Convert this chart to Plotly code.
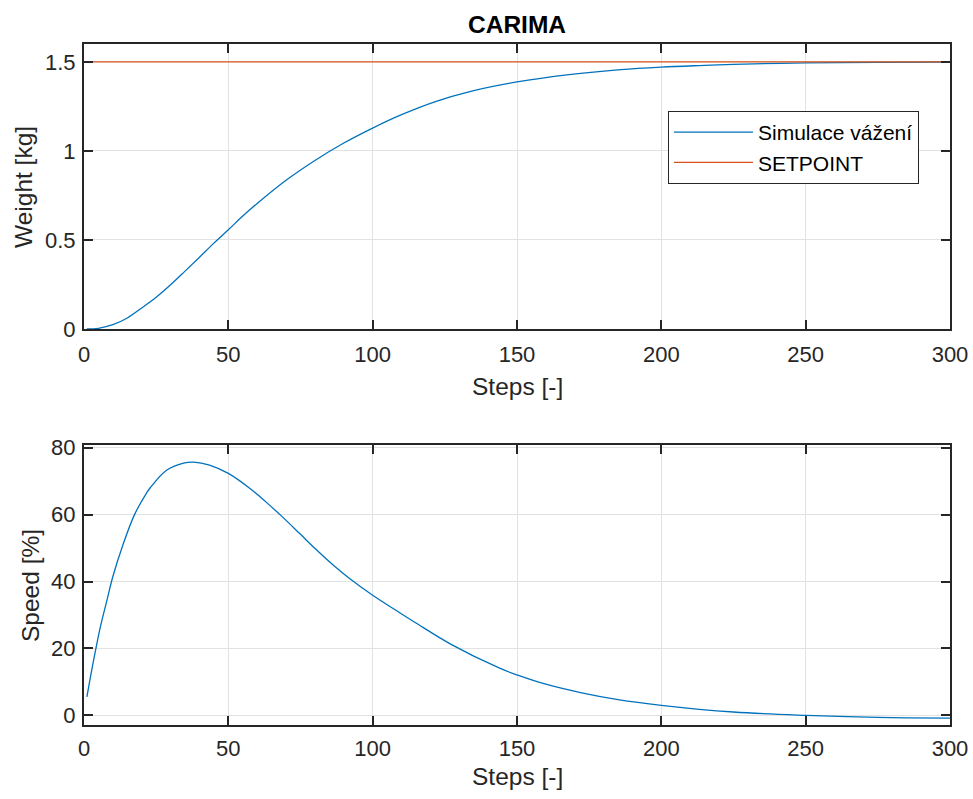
import plotly.graph_objects as go

# ---- data ----
steps_w = [1, 5, 10, 15, 20, 25, 30, 35, 40, 45, 50, 55, 60, 70, 80, 90, 100, 110, 122, 134, 150,
           168, 186, 200, 213, 225, 250, 275, 300]
weight = [0, 0.004, 0.024, 0.062, 0.118, 0.178, 0.248, 0.325, 0.403, 0.482, 0.557, 0.634, 0.705,
          0.835, 0.946, 1.044, 1.128, 1.203, 1.278, 1.334, 1.387, 1.428, 1.456, 1.470, 1.479, 1.486,
          1.494, 1.497, 1.499]
setpoint_x = [1, 300]
setpoint_y = [1.5, 1.5]
steps_s = [1, 3, 5.5, 8, 10, 13.5, 17.5, 21.5, 23, 28.5, 34.5, 38, 43.5, 50, 57.5, 63, 69, 75, 80.5,
           86.5, 92, 100, 109.5, 115, 127, 144, 150, 160, 172, 185, 200, 225, 250, 275, 300]
speed = [5.5, 15.0, 25.8, 34.6, 41.5, 51.0, 60.0, 66.2, 68.1, 73.2, 75.4, 75.7, 74.8, 72.3, 67.8,
         63.8, 59.1, 54.1, 49.5, 44.8, 40.9, 35.9, 30.6, 27.6, 21.3, 14.1, 12.1, 9.3, 6.8, 4.7, 3.0,
         1.0, 0.0, -0.6, -0.8]
x_ticks = [0, 50, 100, 150, 200, 250, 300]
w_ticks = [0, 0.5, 1, 1.5]
w_tick_labels = ["0", "0.5", "1", "1.5"]
s_ticks = [0, 20, 40, 60, 80]

BLUE = "#0072BD"
ORANGE = "#D95319"
AX = "#262626"
FONT = "Liberation Sans, Arial, sans-serif"
W, H = 973, 799

fig = go.Figure()
fig.add_trace(go.Scatter(x=steps_w, y=weight, mode="lines", name="Simulace vážení",
                         line=dict(color=BLUE, width=1.3, shape="spline", smoothing=1.0),
                         xaxis="x", yaxis="y"))
fig.add_trace(go.Scatter(x=setpoint_x, y=setpoint_y, mode="lines", name="SETPOINT",
                         line=dict(color=ORANGE, width=1.3), xaxis="x", yaxis="y"))
fig.add_trace(go.Scatter(x=steps_s, y=speed, mode="lines", name="Speed", showlegend=False,
                         line=dict(color=BLUE, width=1.3, shape="spline", smoothing=1.0),
                         xaxis="x2", yaxis="y2"))

common = dict(showline=True, linecolor=AX, linewidth=2, mirror="ticks", ticks="inside",
              ticklen=9, tickwidth=2, tickcolor=AX, showgrid=True, gridcolor="#e2e2e2", gridwidth=1,
              zeroline=False, automargin=False, tickfont=dict(family=FONT, size=22, color=AX))

xd = [84 / W, 950 / W]
fig.update_layout(
    width=W, height=H, margin=dict(l=0, r=0, t=0, b=0),
    paper_bgcolor="white", plot_bgcolor="white",
    font=dict(family=FONT, color=AX),
    xaxis=dict(domain=xd, range=[0, 300], tickvals=x_ticks, anchor="y",
               ticklabelstandoff=5, **common),
    yaxis=dict(domain=[(H - 329) / H, (H - 44) / H], range=[0, 1.6], tickvals=w_ticks,
               ticktext=w_tick_labels, anchor="x", ticklabelstandoff=2, **common),
    xaxis2=dict(domain=xd, range=[0, 300], tickvals=x_ticks, anchor="y2",
                ticklabelstandoff=3, **common),
    yaxis2=dict(domain=[(H - 725) / H, (H - 445) / H], range=[-2.88, 80.8], tickvals=s_ticks,
                anchor="x2", ticklabelstandoff=2, **common),
    showlegend=True,
    legend=dict(x=919 / W, y=(H - 111) / H, xanchor="right", yanchor="top",
                bgcolor="white", bordercolor=AX, borderwidth=1,
                font=dict(family=FONT, size=21, color="black"), itemwidth=79,
                tracegroupgap=0),
)

ann = [
    dict(text="<b>CARIMA</b>", x=517 / W, y=(H - 25) / H, font=dict(size=24.5, color="black")),
    dict(text="Steps [-]", x=517 / W, y=(H - 387) / H, font=dict(size=24.5, color=AX)),
    dict(text="Steps [-]", x=517 / W, y=(H - 776) / H, font=dict(size=24.5, color=AX)),
    dict(text="Weight [kg]", x=23 / W, y=(H - 187) / H, textangle=-90, font=dict(size=24.5, color=AX)),
    dict(text="Speed [%]", x=30 / W, y=(H - 586) / H, textangle=-90, font=dict(size=24.5, color=AX)),
]
for a in ann:
    a.update(xref="paper", yref="paper", showarrow=False, xanchor="center", yanchor="middle")
    a["font"]["family"] = FONT
fig.update_layout(annotations=ann)

fig.write_html("out.html", config={"displayModeBar": False})

# remove the default page margin so the figure sits at the window's top-left corner
with open("out.html", "r", encoding="utf-8") as f:
    html = f.read()
html = html.replace("<head>", "<head><style>html,body{margin:0;padding:0;overflow:hidden;}</style>", 1)
with open("out.html", "w", encoding="utf-8") as f:
    f.write(html)
